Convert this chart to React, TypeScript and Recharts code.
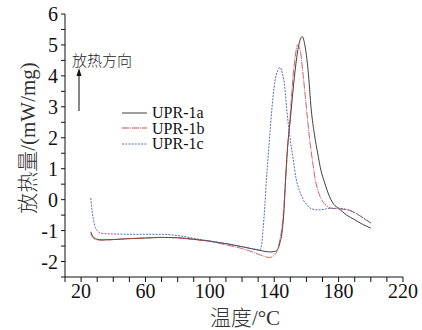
import React from 'react';
import { LineChart, Line, XAxis, YAxis, Legend, Customized } from 'recharts';

// DSC curves
const temp1a = [26, 27, 28, 30, 33, 40, 50, 60, 70, 80, 90, 100, 110, 120, 128, 133, 137, 140, 142, 143.5, 145, 146, 147, 148, 150, 152, 154, 156, 157.4, 159, 161, 163, 165, 167, 169, 171, 173, 175, 177, 180, 185, 190, 195, 200];
const heat1a = [-1.04, -1.16, -1.23, -1.28, -1.3, -1.29, -1.26, -1.24, -1.22, -1.23, -1.28, -1.34, -1.42, -1.52, -1.61, -1.66, -1.69, -1.68, -1.62, -1.4, -1.0, -0.4, 0.6, 1.5, 2.6, 3.7, 4.6, 5.15, 5.27, 5.0, 4.2, 2.9, 2.1, 1.5, 0.95, 0.6, 0.28, 0.02, -0.15, -0.28, -0.5, -0.65, -0.8, -0.92];

const temp1b = [26, 27, 28, 30, 33, 40, 50, 60, 70, 80, 90, 100, 110, 120, 128, 133, 137, 140, 142, 143.5, 145, 146, 147, 148, 150, 151.8, 153, 154.5, 156, 158, 160, 162, 164.2, 165.5, 167.3, 170, 172.5, 175, 180, 185, 190, 195, 200];
const heat1b = [-1.1, -1.2, -1.26, -1.3, -1.31, -1.29, -1.26, -1.24, -1.22, -1.24, -1.29, -1.35, -1.46, -1.58, -1.72, -1.82, -1.87, -1.8, -1.62, -1.3, -0.8, -0.2, 0.6, 1.4, 2.8, 4.03, 4.6, 5.0, 4.85, 4.0, 2.96, 1.95, 1.1, 0.65, 0.27, -0.05, -0.2, -0.27, -0.3, -0.32, -0.42, -0.58, -0.76];

const temp1c = [26, 26.5, 27.5, 28.5, 30, 32, 35, 40, 50, 60, 70, 80, 90, 100, 110, 120, 128, 131, 132.2, 133, 134.2, 135.2, 136.3, 137.4, 138.4, 139.4, 140.4, 142, 143.5, 145, 146.6, 147.7, 149.8, 151.8, 153.5, 156, 158, 160, 162.2, 165, 168.4, 172, 176, 180, 185, 190, 195, 200];
const heat1c = [0.05, -0.2, -0.6, -0.85, -1.0, -1.08, -1.1, -1.11, -1.12, -1.12, -1.12, -1.16, -1.25, -1.34, -1.42, -1.52, -1.6, -1.63, -1.45, -1.0, -0.16, 0.7, 1.45, 2.2, 2.85, 3.4, 3.82, 4.15, 4.27, 4.1, 3.6, 2.96, 2.0, 1.3, 0.7, 0.25, 0.0, -0.15, -0.27, -0.32, -0.33, -0.3, -0.28, -0.28, -0.32, -0.42, -0.58, -0.74];

const seriesNames = ['UPR-1a', 'UPR-1b', 'UPR-1c'];
const xTicks = [10, 20, 30, 40, 50, 60, 70, 80, 90, 100, 110, 120, 130, 140, 150, 160, 170, 180, 190, 200, 210, 220];
const yTicks = [-2.5, -2, -1.5, -1, -0.5, 0, 0.5, 1, 1.5, 2, 2.5, 3, 3.5, 4, 4.5, 5, 5.5, 6];

const toRows = (t: number[], h: number[]) => t.map((x, i) => ({ t: x, v: h[i] }));
const data1a = toRows(temp1a, heat1a);
const data1b = toRows(temp1b, heat1b);
const data1c = toRows(temp1c, heat1c);

const styles = [
  { stroke: '#2a2a2a', dash: undefined as string | undefined, width: 0.9 },
  { stroke: '#c23b3b', dash: '7 1 1 1', width: 0.8 },
  { stroke: '#4a5ea8', dash: '2 1.2', width: 0.9 },
];

const serif = "'Liberation Serif', 'Times New Roman', serif";
const cjk = "'Noto Sans CJK SC', sans-serif";

const XTick = (props: any) => {
  const { x, y, payload } = props;
  if ((payload.value - 20) % 40 !== 0) return <g />;
  return (
    <text x={x} y={y} dy="0.71em" textAnchor="middle" fontSize={20} fontFamily={serif} fill="#111">
      {payload.value}
    </text>
  );
};

const YTick = (props: any) => {
  const { x, y, payload } = props;
  if (!Number.isInteger(payload.value)) return <g />;
  return (
    <text x={x} y={y} dy="0.35em" textAnchor="end" fontSize={20} fontFamily={serif} fill="#111">
      {payload.value}
    </text>
  );
};

const LegendBox = () => (
  <div style={{ fontFamily: serif, fontSize: 16, color: '#111' }}>
    {seriesNames.map((name, i) => (
      <div key={name} style={{ display: 'flex', alignItems: 'center', height: 15.5 }}>
        <svg width={25} height={4}>
          <line x1={0} y1={2} x2={25} y2={2} stroke={styles[i].stroke} strokeWidth={0.9} strokeDasharray={styles[i].dash} />
        </svg>
        <span style={{ marginLeft: 5, lineHeight: '15.5px' }}>{name}</span>
      </div>
    ))}
  </div>
);

const Annotations = () => (
  <g>
    <text x={72} y={66} fontSize={15} fontFamily={cjk} fontWeight={300} fill="#222">放热方向</text>
    <line x1={79} y1={111} x2={79} y2={74} stroke="#111" strokeWidth={1} />
    <polygon points="79,68 76.5,76 81.5,76" fill="#111" />
    <text x={245} y={325} textAnchor="middle" fontSize={21} fill="#333">
      <tspan fontFamily={cjk} fontWeight={300}>温度</tspan>
      <tspan fontFamily={serif}>/°C</tspan>
    </text>
    <text x={35} y={138} transform="rotate(-90 35 138)" textAnchor="middle" fontSize={21} fill="#333">
      <tspan fontFamily={cjk} fontWeight={300}>放热量</tspan>
      <tspan fontFamily={serif}>/(mW/mg)</tspan>
    </text>
  </g>
);

export default function App() {
  return (
    <div style={{ position: 'absolute', left: 0, top: 0, background: '#fff' }}>
      <LineChart width={422} height={330} margin={{ top: 14, right: 19, bottom: 0, left: 0 }}>
        <XAxis
          dataKey="t"
          type="number"
          domain={[10, 220]}
          ticks={xTicks}
          interval={0}
          allowDataOverflow
          height={53}
          tick={<XTick />}
          tickSize={5}
          tickMargin={2}
          stroke="#111"
          tickLine={{ stroke: '#111' }}
        />
        <YAxis
          type="number"
          domain={[-2.5, 6]}
          ticks={yTicks}
          interval={0}
          allowDataOverflow
          width={65}
          tick={<YTick />}
          tickSize={4}
          tickMargin={3}
          stroke="#111"
          tickLine={{ stroke: '#111' }}
        />
        <Line data={data1a} dataKey="v" name={seriesNames[0]} type="monotone" dot={false} stroke={styles[0].stroke} strokeWidth={styles[0].width} isAnimationActive={false} />
        <Line data={data1b} dataKey="v" name={seriesNames[1]} type="monotone" dot={false} stroke={styles[1].stroke} strokeWidth={styles[1].width} strokeDasharray={styles[1].dash} isAnimationActive={false} />
        <Line data={data1c} dataKey="v" name={seriesNames[2]} type="monotone" dot={false} stroke={styles[2].stroke} strokeWidth={styles[2].width} strokeDasharray={styles[2].dash} isAnimationActive={false} />
        <Legend
          layout="horizontal"
          verticalAlign="middle"
          align="center"
          content={<LegendBox />}
          wrapperStyle={{ position: 'absolute', left: 122, top: 105, width: 'auto' }}
        />
        <Customized component={<Annotations />} />
      </LineChart>
    </div>
  );
}
